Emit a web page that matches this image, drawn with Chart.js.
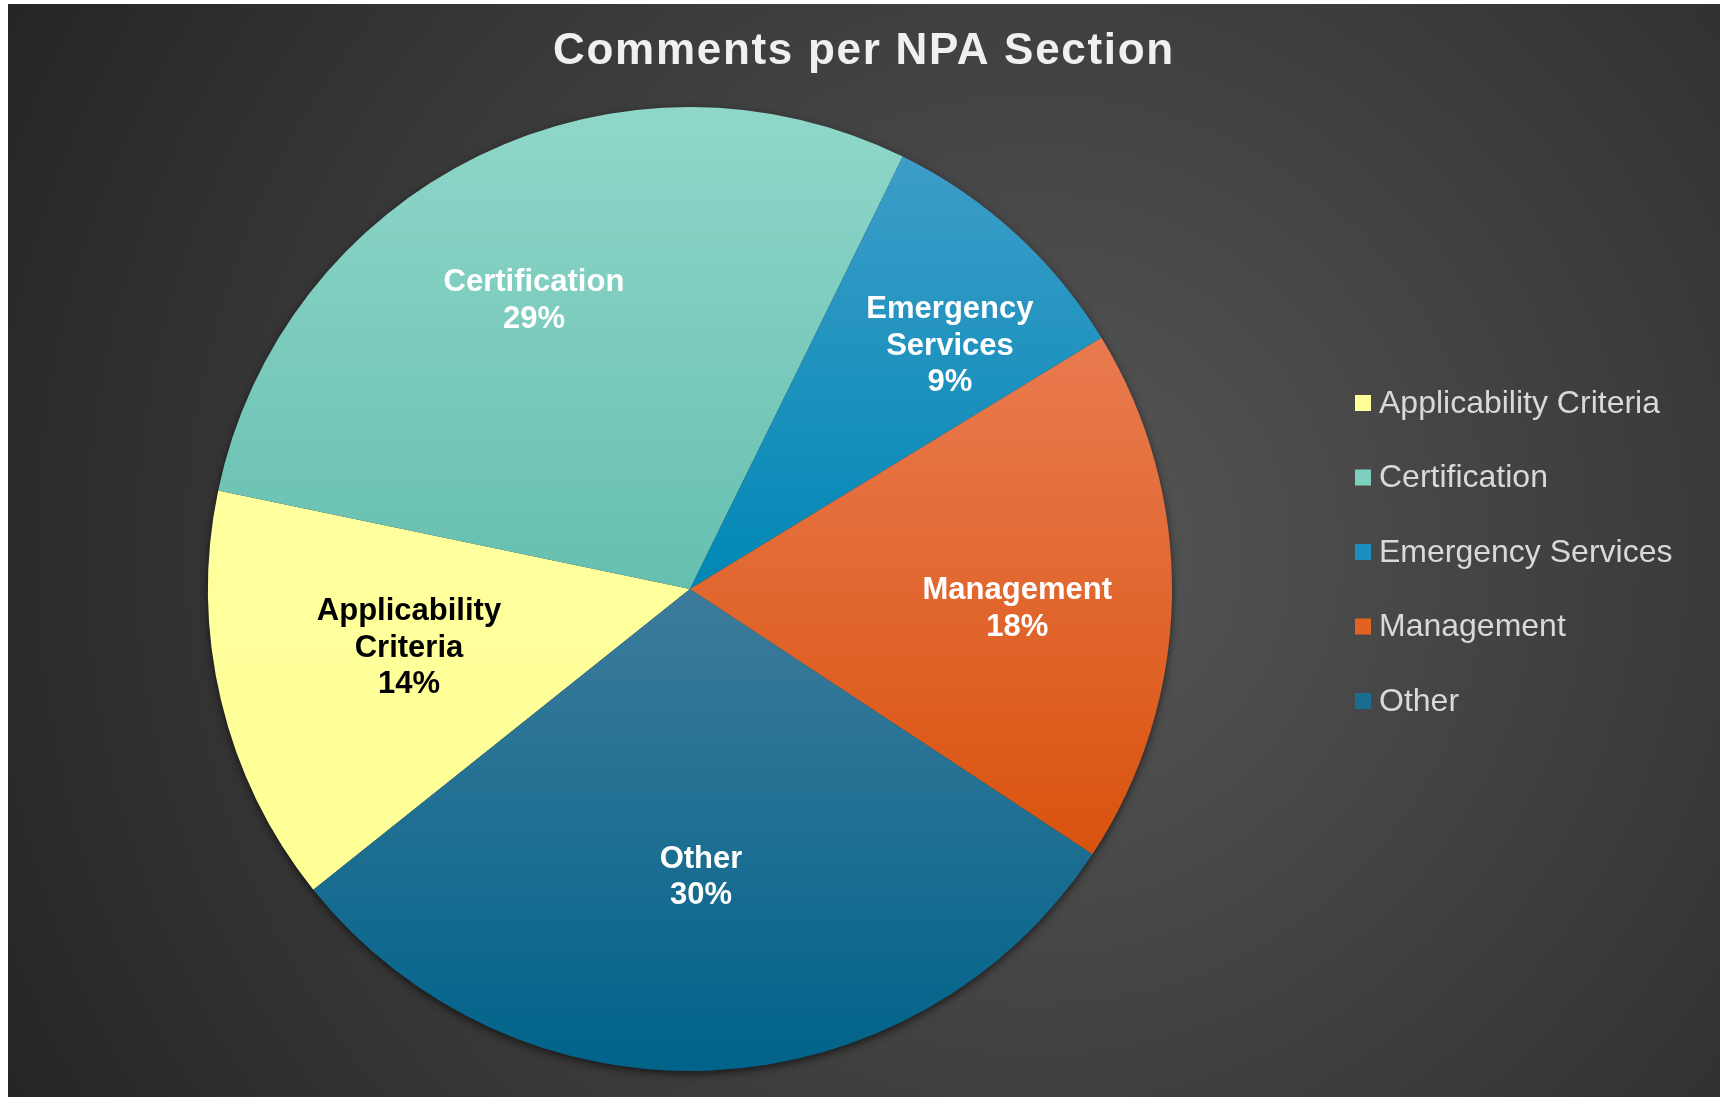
<!DOCTYPE html>
<html>
<head>
<meta charset="utf-8">
<script src="https://cdn.jsdelivr.net/npm/chart.js@4"></script>
<style>
  html, body { margin: 0; padding: 0; background: #ffffff; }
  #wrap { position: absolute; left: 8px; top: 4px; width: 1712px; height: 1093px; }
</style>
</head>
<body>
<div id="wrap"><canvas id="chart"></canvas></div>
<script>
// data
const sections = ['Applicability Criteria', 'Certification', 'Emergency Services', 'Management', 'Other'];
const comments = [14, 29, 9, 18, 30];
const labelLines = [['Applicability', 'Criteria'], ['Certification'], ['Emergency', 'Services'], ['Management'], ['Other']];
const chartTitle = 'Comments per NPA Section';

// slice colours (top / bottom of the gradient) and legend swatches
const topColors = ['#ffff9e', '#8fd7c9', '#3d9dc8', '#e97b50', '#3d7b9b'];
const bottomColors = ['#ffff96', '#66bfb0', '#0087b5', '#d9530e', '#00638a'];
const swatchColors = ['#ffff99', '#7fcfbf', '#1a8fc0', '#e3621f', '#1a6d90'];
const labelColors = ['#000000', '#ffffff', '#ffffff', '#ffffff', '#ffffff'];
// where each in-slice label sits: fraction of radius, angle nudge (deg)
const labelRadius = [0.595, 0.683, 0.741, 0.68, 0.595];
const labelNudge = [1.9, -2.3, 4.3, 2.1, 0.4];

const ROTATION = 231.4;
const FONT = '"Liberation Sans", Arial, Helvetica, sans-serif';

// vertical gradient spanning one slice
function sliceFill(context) {
  const i = context.dataIndex;
  const chart = context.chart;
  const area = chart.chartArea;
  if (!area || i === undefined) return swatchColors[i] || '#888';
  const cx = (area.left + area.right) / 2;
  const cy = (area.top + area.bottom) / 2;
  const r = Math.min(area.right - area.left, area.bottom - area.top) / 2;
  const total = comments.reduce((a, b) => a + b, 0);
  let before = 0;
  for (let k = 0; k < i; k++) before += comments[k];
  const a0 = (ROTATION - 90) * Math.PI / 180 + before / total * 2 * Math.PI;
  const a1 = a0 + comments[i] / total * 2 * Math.PI;
  const ys = [cy, cy + Math.sin(a0) * r, cy + Math.sin(a1) * r];
  for (let t = -4; t <= 8; t++) {
    const a = Math.PI / 2 + t * Math.PI; // bottom / top points
    if (a > a0 && a < a1) ys.push(cy + Math.sin(a) * r);
  }
  const y0 = Math.min(...ys), y1 = Math.max(...ys);
  const g = chart.ctx.createLinearGradient(0, y0, 0, y1);
  g.addColorStop(0, topColors[i]);
  g.addColorStop(1, bottomColors[i]);
  return g;
}

const backgroundPlugin = {
  id: 'bg',
  beforeDraw(chart) {
    const { ctx, width, height } = chart;
    const g = ctx.createRadialGradient(width * 0.6, height * 0.5, 0, width * 0.6, height * 0.5, width * 0.72);
    g.addColorStop(0, '#575757');
    g.addColorStop(1, '#222222');
    ctx.save();
    ctx.fillStyle = g;
    ctx.fillRect(0, 0, width, height);
    ctx.restore();
  }
};

const shadowPlugin = {
  id: 'pieShadow',
  beforeDatasetsDraw(chart) {
    const arc = chart.getDatasetMeta(0).data[0];
    if (!arc) return;
    const { x, y, outerRadius } = arc.getProps(['x', 'y', 'outerRadius'], true);
    const ctx = chart.ctx;
    ctx.save();
    ctx.shadowColor = 'rgba(0,0,0,0.7)';
    ctx.shadowBlur = 10;
    ctx.shadowOffsetY = 3;
    ctx.fillStyle = '#333';
    ctx.beginPath();
    ctx.arc(x, y, outerRadius - 1, 0, Math.PI * 2);
    ctx.fill();
    ctx.restore();
  }
};

const sliceLabels = {
  id: 'sliceLabels',
  afterDatasetsDraw(chart) {
    const ctx = chart.ctx;
    const total = comments.reduce((a, b) => a + b, 0);
    chart.getDatasetMeta(0).data.forEach((arc, i) => {
      const p = arc.getProps(['x', 'y', 'startAngle', 'endAngle', 'outerRadius'], true);
      const mid = (p.startAngle + p.endAngle) / 2 + labelNudge[i] * Math.PI / 180;
      const lx = p.x + Math.cos(mid) * p.outerRadius * labelRadius[i];
      const ly = p.y + Math.sin(mid) * p.outerRadius * labelRadius[i] + 2;
      const lines = labelLines[i].concat([Math.round(comments[i] / total * 100) + '%']);
      const lh = 36.5;
      ctx.save();
      ctx.font = 'bold 31px ' + FONT;
      ctx.fillStyle = labelColors[i];
      ctx.textAlign = 'center';
      ctx.textBaseline = 'middle';
      lines.forEach((t, k) => {
        ctx.fillText(t, lx, ly + (k - (lines.length - 1) / 2) * lh);
      });
      ctx.restore();
    });
  }
};

// title with wider tracking, and the legend column on the right
const titleAndLegend = {
  id: 'titleAndLegend',
  afterDraw(chart) {
    const { ctx, width, height } = chart;
    ctx.save();
    ctx.font = 'bold 44px ' + FONT;
    ctx.letterSpacing = '1.7px';
    ctx.fillStyle = '#f0f0f0';
    ctx.textAlign = 'center';
    ctx.textBaseline = 'middle';
    ctx.fillText(chartTitle, width / 2, 48);
    ctx.letterSpacing = '0px';

    ctx.font = '32px ' + FONT;
    ctx.textAlign = 'left';
    const step = 74.5;
    sections.forEach((s, i) => {
      const y = height / 2 + 1.5 + (i - (sections.length - 1) / 2) * step;
      ctx.fillStyle = swatchColors[i];
      ctx.fillRect(1347, y - 8, 16, 16);
      ctx.fillStyle = '#d9d9d9';
      ctx.fillText(s, 1371, y + 1);
    });
    ctx.restore();
  }
};

new Chart(document.getElementById('chart'), {
  type: 'pie',
  data: {
    labels: sections,
    datasets: [{
      data: comments,
      backgroundColor: sliceFill,
      borderWidth: 0
    }]
  },
  options: {
    responsive: true,
    maintainAspectRatio: false,
    animation: false,
    rotation: ROTATION,
    layout: { padding: { left: 200, right: 548, top: 103, bottom: 26 } },
    plugins: {
      title: { display: false },
      legend: { display: false },
      tooltip: { enabled: false }
    }
  },
  plugins: [backgroundPlugin, shadowPlugin, sliceLabels, titleAndLegend]
});
</script>
</body>
</html>
